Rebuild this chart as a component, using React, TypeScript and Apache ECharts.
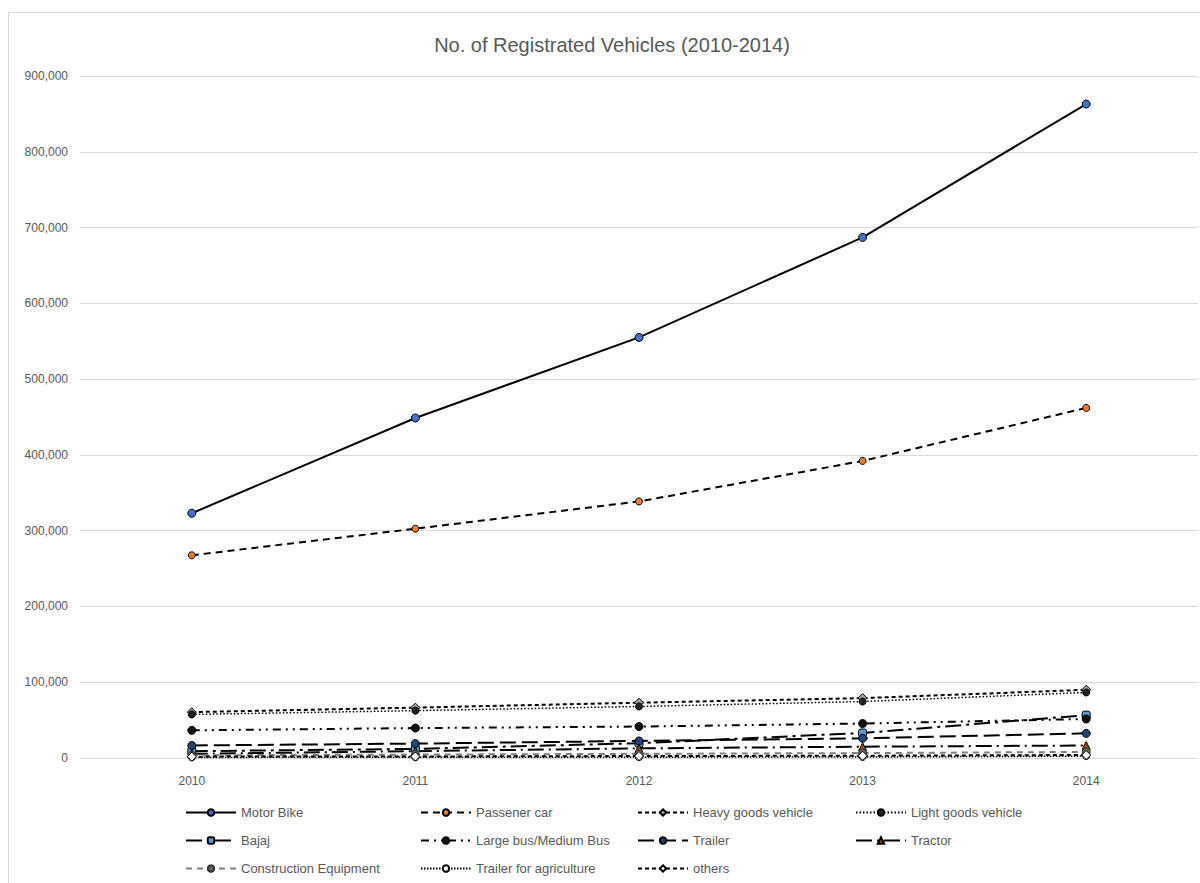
import React, { useEffect, useRef } from "react";
import * as echarts from "echarts";

// Registered vehicles per year, by vehicle type
const years = ["2010", "2011", "2012", "2013", "2014"];

const motorBike = [323000, 448700, 555000, 687000, 863000];
const passengerCar = [267500, 302600, 338600, 392000, 462000];
const heavyGoods = [60500, 66500, 73000, 79000, 90000];
const lightGoods = [57500, 62500, 68000, 74500, 86500];
const bajaj = [9000, 12000, 19500, 33000, 56500];
const largeBus = [36500, 39500, 41500, 45500, 51500];
const trailer = [16500, 19000, 22500, 26000, 32500];
const tractor = [5500, 9000, 12700, 14900, 16500];
const construction = [3500, 4500, 5500, 6500, 8000];
const trailerAgri = [800, 900, 1100, 1300, 2500];
const others = [1800, 2000, 2600, 3000, 4000];

const yTicks = { min: 0, max: 900000, step: 100000 };

const TEXT = "#595959";
const GRID = "#D9D9D9";
const FONT = "Liberation Sans, Arial, sans-serif";

type Spec = {
  name: string;
  data: number[];
  line: string;
  width: number;
  dash: number[] | "solid";
  symbol: string;
  fill: string;
  border: string;
  size: number;
};

const specs: Spec[] = [
  { name: "Motor Bike", data: motorBike, line: "#000", width: 2, dash: "solid", symbol: "circle", fill: "#4472C4", border: "#000", size: 8 },
  { name: "Passener car", data: passengerCar, line: "#000", width: 2, dash: [7, 5], symbol: "circle", fill: "#ED7D31", border: "#000", size: 7 },
  { name: "Heavy goods vehicle", data: heavyGoods, line: "#000", width: 2, dash: [4, 3], symbol: "diamond", fill: "#A5A5A5", border: "#000", size: 9 },
  { name: "Light goods vehicle", data: lightGoods, line: "#000", width: 1.5, dash: [1.5, 2], symbol: "circle", fill: "#222", border: "#000", size: 7 },
  { name: "Bajaj", data: bajaj, line: "#000", width: 2, dash: [16, 5, 3, 5], symbol: "roundRect", fill: "#5B9BD5", border: "#000", size: 8 },
  { name: "Large bus/Medium Bus", data: largeBus, line: "#000", width: 2, dash: [8, 5, 2, 5, 2, 5], symbol: "circle", fill: "#111", border: "#000", size: 8 },
  { name: "Trailer", data: trailer, line: "#000", width: 2, dash: [16, 6], symbol: "circle", fill: "#264478", border: "#000", size: 8 },
  { name: "Tractor", data: tractor, line: "#000", width: 2, dash: [16, 5, 2, 5], symbol: "triangle", fill: "#9E480E", border: "#000", size: 8 },
  { name: "Construction Equipment", data: construction, line: "#7F7F7F", width: 2, dash: [6, 5], symbol: "circle", fill: "#636363", border: "#333", size: 8 },
  { name: "Trailer for agriculture", data: trailerAgri, line: "#000", width: 1.5, dash: [1.5, 1.5], symbol: "circle", fill: "#fff", border: "#000", size: 7 },
  { name: "others", data: others, line: "#000", width: 2, dash: [4, 3], symbol: "diamond", fill: "#fff", border: "#000", size: 9 },
];

// Legend grid: four columns, three rows
const legendColumnsX = [185, 420, 637, 855];
const legendRowsY = [806, 834, 862];
const legendLayout = [
  ["Motor Bike", "Passener car", "Heavy goods vehicle", "Light goods vehicle"],
  ["Bajaj", "Large bus/Medium Bus", "Trailer", "Tractor"],
  ["Construction Equipment", "Trailer for agriculture", "others"],
];

export default function App() {
  const ref = useRef<HTMLDivElement>(null);

  useEffect(() => {
    if (!ref.current) return;
    const chart = echarts.init(ref.current, undefined, { renderer: "svg" });

    const series = specs.map((s) => ({
      name: s.name,
      type: "line",
      data: s.data,
      symbol: s.symbol,
      symbolSize: s.size,
      showSymbol: true,
      lineStyle: { color: s.line, width: s.width, type: s.dash },
      itemStyle: { color: s.fill, borderColor: s.border, borderWidth: 1 },
      emphasis: { disabled: true },
    }));

    const legends: any[] = [];
    legendLayout.forEach((row, r) => {
      row.forEach((name, c) => {
        legends.push({
          left: legendColumnsX[c],
          top: legendRowsY[r],
          padding: 0,
          itemWidth: 50,
          itemHeight: 8,
          itemGap: 4,
          data: [name],
          selectedMode: false,
          textStyle: { color: TEXT, fontSize: 13, fontFamily: FONT },
        });
      });
    });

    chart.setOption({
      animation: false,
      backgroundColor: "#fff",
      textStyle: { fontFamily: FONT },
      title: {
        text: "No. of Registrated Vehicles (2010-2014)",
        left: 607,
        textAlign: "center",
        top: 30,
        textStyle: { color: TEXT, fontSize: 20, fontWeight: "normal", fontFamily: FONT },
      },
      graphic: [
        {
          type: "rect",
          shape: { x: 8.5, y: 12.5, width: 1200, height: 900 },
          style: { fill: "none", stroke: GRID, lineWidth: 1 },
          silent: true,
        },
      ],
      grid: { left: 80, right: 2, top: 76, bottom: 125, containLabel: false },
      xAxis: {
        type: "category",
        data: years,
        boundaryGap: true,
        axisLine: { lineStyle: { color: GRID, width: 1 } },
        axisTick: { show: false },
        axisLabel: { color: TEXT, fontSize: 12, margin: 17, fontFamily: FONT },
      },
      yAxis: {
        type: "value",
        min: yTicks.min,
        max: yTicks.max,
        interval: yTicks.step,
        axisLine: { show: false },
        axisTick: { show: false },
        splitLine: { lineStyle: { color: GRID, width: 1 } },
        axisLabel: {
          color: TEXT,
          fontSize: 12,
          margin: 12,
          fontFamily: FONT,
          formatter: (v: number) => v.toLocaleString("en-US"),
        },
      },
      legend: legends,
      series,
    });

    return () => chart.dispose();
  }, []);

  return (
    <div
      ref={ref}
      style={{ position: "fixed", left: 0, top: 0, width: 1200, height: 883 }}
    />
  );
}
